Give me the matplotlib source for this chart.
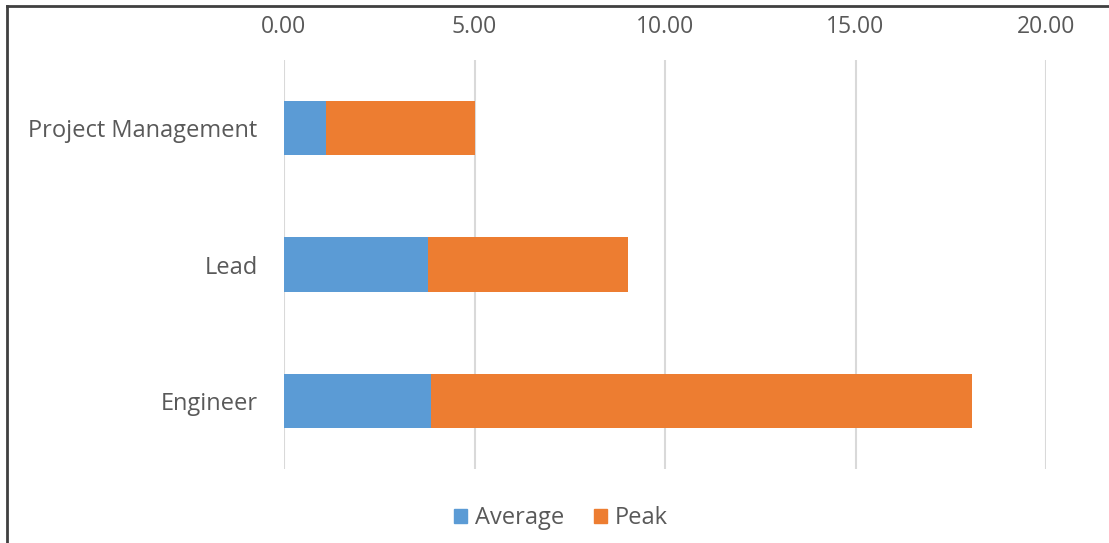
import matplotlib
matplotlib.use("Agg")
import matplotlib.pyplot as plt
from matplotlib.lines import Line2D
from matplotlib.patches import Patch

# Role categories, drawn top to bottom
categories = ["Project Management", "Lead", "Engineer"]
average = [1.10, 3.79, 3.86]
peak = [3.90, 5.24, 14.21]
xticks = [0, 5, 10, 15, 20]
xtick_labels = ["0.00", "5.00", "10.00", "15.00", "20.00"]

BLUE = "#5b9bd5"
ORANGE = "#ed7d31"
TEXT = "#595959"
GRID = "#d9d9d9"

plt.rcParams["font.family"] = ["Open Sans", "DejaVu Sans"]

fig = plt.figure(figsize=(11.09, 5.43), dpi=100)
ax = fig.add_axes([284 / 1109, 1 - 469 / 543, (1046 - 284) / 1109, (469 - 60) / 543])

ypos = list(range(len(categories)))
ax.barh(ypos, average, height=0.4, color=BLUE, label="Average", zorder=3)
ax.barh(ypos, peak, left=average, height=0.4, color=ORANGE, label="Peak", zorder=3)

ax.set_xlim(0, 20)
ax.set_ylim(len(categories) - 0.5, -0.5)
ax.set_yticks(ypos)
ax.set_yticklabels(categories)
ax.set_xticks(xticks)
ax.set_xticklabels(xtick_labels)
ax.xaxis.tick_top()
ax.tick_params(axis="both", length=0, colors=TEXT)
ax.tick_params(axis="x", pad=15, labelsize=16.5)
ax.tick_params(axis="y", pad=19, labelsize=17)
ax.grid(axis="x", color=GRID, linewidth=1.5, zorder=0)
for s in ax.spines.values():
    s.set_visible(False)

handles = [Patch(color=BLUE, label="Average"), Patch(color=ORANGE, label="Peak")]
fig.legend(handles=handles, loc="center", bbox_to_anchor=(561 / 1109, 1 - 518 / 543),
           ncol=2, frameon=False, fontsize=17, labelcolor=TEXT,
           handlelength=0.55, handleheight=0.55, handletextpad=0.3, columnspacing=1.3)

# Outer frame: top and left edges only
fig.add_artist(Line2D([7 / 1109, 1], [1 - 6 / 543, 1 - 6 / 543], transform=fig.transFigure,
                      color="#404040", linewidth=2))
fig.add_artist(Line2D([7 / 1109, 7 / 1109], [0, 1 - 6 / 543], transform=fig.transFigure,
                      color="#404040", linewidth=2))

fig.savefig("out.png", dpi=100, facecolor="white")
